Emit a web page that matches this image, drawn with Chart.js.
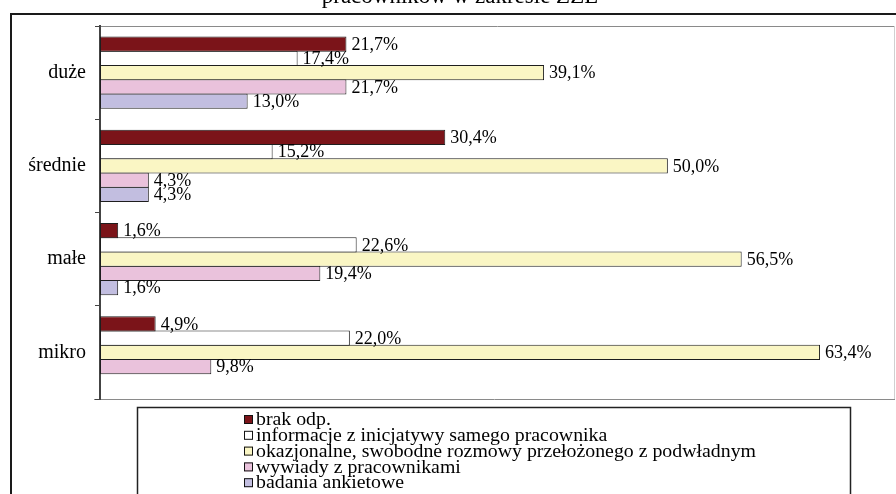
<!DOCTYPE html>
<html>
<head>
<meta charset="utf-8">
<script src="https://cdn.jsdelivr.net/npm/chart.js@4.4.0/dist/chart.umd.min.js"></script>
<style>
  html, body { margin: 0; padding: 0; background: #fff; }
  #wrap { position: relative; width: 896px; height: 494px; }
</style>
</head>
<body>
<div id="wrap"><canvas id="chart"></canvas></div>
<script>
const categories = ['duże', 'średnie', 'małe', 'mikro'];
const seriesNames = [
  'brak odp.',
  'informacje z inicjatywy samego pracownika',
  'okazjonalne, swobodne rozmowy przełożonego z podwładnym',
  'wywiady z pracownikami',
  'badania ankietowe'
];
const brakOdp = [21.7, 30.4, 1.6, 4.9];
const informacje = [17.4, 15.2, 22.6, 22.0];
const rozmowy = [39.1, 50.0, 56.5, 63.4];
const wywiady = [21.7, 4.3, 19.4, 9.8];
const ankiety = [13.0, 4.3, 1.6, null];
const seriesColors = ['#7b1419', '#ffffff', '#faf6c4', '#eac2dc', '#c2bee0'];
const titleText = 'pracowników w zakresie ZZL';

const serif = '"Liberation Serif", "Times New Roman", serif';

// frame of the chart object, plot area outline and the (cut) title line
const frame = {
  id: 'frame',
  beforeDraw(chart) {
    const ctx = chart.ctx, a = chart.chartArea;
    ctx.save();
    ctx.fillStyle = '#000';
    ctx.font = '23px ' + serif;
    ctx.textAlign = 'center';
    ctx.textBaseline = 'alphabetic';
    ctx.fillText(titleText, 460, 3);

    ctx.strokeStyle = '#1a1a1a';
    ctx.lineWidth = 2;
    ctx.beginPath();
    ctx.moveTo(11, 600);
    ctx.lineTo(11, 14);
    ctx.lineTo(900, 14);
    ctx.stroke();

    ctx.lineWidth = 1;
    ctx.strokeStyle = '#8a8a8a';
    ctx.beginPath();
    ctx.moveTo(a.left, a.top + 0.5);
    ctx.lineTo(a.right, a.top + 0.5);
    ctx.moveTo(a.left - 6, a.bottom + 0.5);
    ctx.lineTo(a.right, a.bottom + 0.5);
    ctx.stroke();
    ctx.strokeStyle = '#d0d0d0';
    ctx.beginPath();
    ctx.moveTo(a.right - 0.5, a.top);
    ctx.lineTo(a.right - 0.5, a.bottom);
    ctx.stroke();
    ctx.restore();
  }
};

// value labels right of each bar, decimal comma
const barLabels = {
  id: 'barLabels',
  afterDatasetsDraw(chart) {
    const ctx = chart.ctx;
    ctx.save();
    ctx.fillStyle = '#000';
    ctx.font = '18px ' + serif;
    ctx.textAlign = 'left';
    ctx.textBaseline = 'middle';
    chart.data.datasets.forEach((ds, i) => {
      chart.getDatasetMeta(i).data.forEach((bar, j) => {
        const v = ds.data[j];
        if (v == null) return;
        ctx.fillText(v.toFixed(1).replace('.', ',') + '%', bar.x + 5, bar.y + 1);
      });
    });
    ctx.restore();
  }
};

// boxed legend under the plot
const legendBox = {
  id: 'legendBox',
  afterDraw(chart) {
    const ctx = chart.ctx;
    ctx.save();
    ctx.strokeStyle = '#222';
    ctx.lineWidth = 1.5;
    ctx.beginPath();
    ctx.moveTo(137.5, 600);
    ctx.lineTo(137.5, 407.5);
    ctx.lineTo(850.5, 407.5);
    ctx.lineTo(850.5, 600);
    ctx.stroke();

    ctx.font = '18px ' + serif;
    const widest = Math.max(...seriesNames.map(t => ctx.measureText(t).width));
    const sx = 500 / widest;
    ctx.textBaseline = 'middle';
    chart.data.datasets.forEach((ds, i) => {
      const y = 419.5 + i * 15.8;
      ctx.fillStyle = ds.backgroundColor;
      ctx.fillRect(244, y - 4.5, 9, 9);
      ctx.lineWidth = 1;
      ctx.strokeStyle = '#111';
      ctx.strokeRect(244.5, y - 4, 8, 8);
      ctx.fillStyle = '#000';
      ctx.save();
      ctx.translate(256, y);
      ctx.scale(sx, 1);
      ctx.fillText(ds.label, 0, 1);
      ctx.restore();
    });
    ctx.restore();
  }
};

const seriesData = [brakOdp, informacje, rozmowy, wywiady, ankiety];

new Chart(document.getElementById('chart'), {
  type: 'bar',
  data: {
    labels: categories,
    datasets: seriesData.map((d, i) => ({
      label: seriesNames[i],
      data: d,
      backgroundColor: seriesColors[i]
    }))
  },
  options: {
    indexAxis: 'y',
    responsive: true,
    maintainAspectRatio: false,
    animation: false,
    layout: { padding: { top: 26, right: 1, bottom: 95, left: 0 } },
    datasets: {
      bar: {
        categoryPercentage: 0.764,
        barPercentage: 1.07,
        borderWidth: 1,
        borderColor: '#1e1e1e',
        borderSkipped: false
      }
    },
    scales: {
      x: { display: false, min: 0, max: 70 },
      y: {
        afterFit(scale) { scale.width = 100; },
        grid: { drawOnChartArea: false, tickLength: 5, color: '#444', offset: true },
        border: { color: '#444', width: 2 },
        ticks: { padding: 9, color: '#000', font: { family: serif, size: 20 } }
      }
    },
    plugins: {
      legend: { display: false },
      tooltip: { enabled: false }
    }
  },
  plugins: [frame, barLabels, legendBox]
});
</script>
</body>
</html>
